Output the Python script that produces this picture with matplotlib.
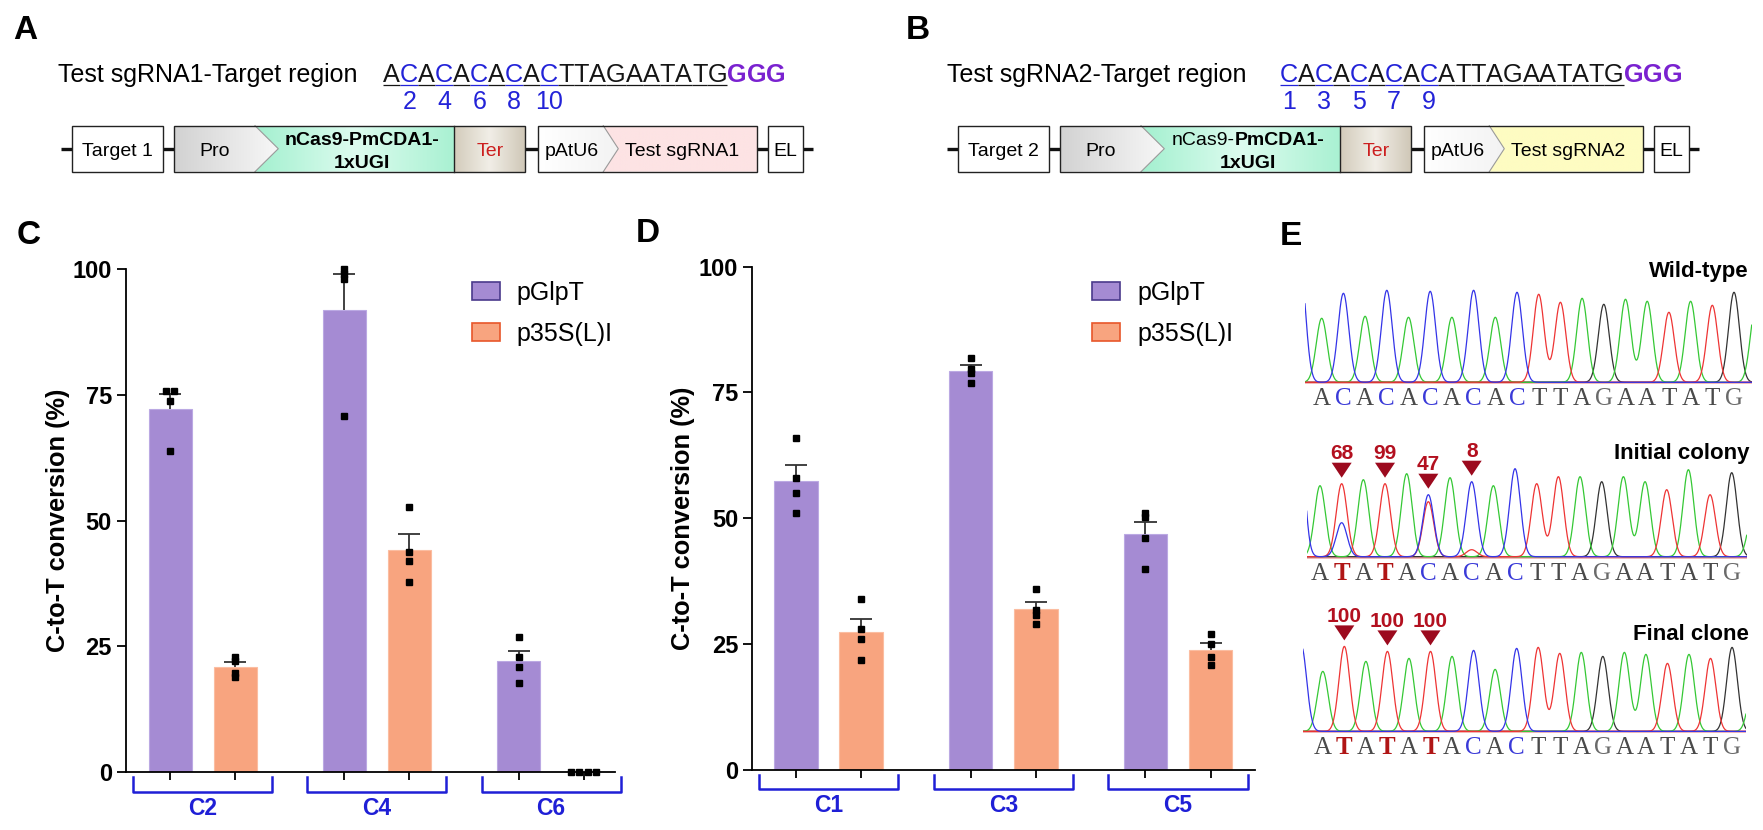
#!/usr/bin/env python3
"""
Base-editing figure: constructs (A, B), C-to-T conversion bars (C, D)
and Sanger chromatograms (E). Saves out.png.
"""

import numpy as np
import matplotlib.pyplot as plt
from matplotlib.patches import Polygon
from matplotlib.colors import LinearSegmentedColormap
from matplotlib.font_manager import FontProperties

plt.rcParams['font.family'] = ['Liberation Sans', 'DejaVu Sans']

W, H = 1763, 830

# ---------------- data ----------------
series = ["pGlpT", "p35S(L)I"]

# panel C
c_groups = ["C2", "C4", "C6"]
c_glpt_mean = [72.3, 91.9, 22.1]
c_glpt_sem = [2.9, 7.1, 1.9]
c_glpt_pts = [[75.8, 75.8, 73.8, 63.8], [100.0, 99.0, 98.0, 70.8], [26.9, 22.9, 20.9, 17.8]]
c_p35s_mean = [20.9, 44.1, 0.0]
c_p35s_sem = [1.0, 3.2, 0.0]
c_p35s_pts = [[22.9, 22.1, 19.6, 18.9], [52.8, 43.8, 41.9, 37.8], [0.0, 0.0, 0.0, 0.0]]

# panel D
d_groups = ["C1", "C3", "C5"]
d_glpt_mean = [57.4, 79.3, 46.8]
d_glpt_sem = [3.2, 1.2, 2.5]
d_glpt_pts = [[65.9, 57.9, 55.0, 51.0], [81.9, 79.7, 78.8, 76.9], [51.0, 50.3, 46.0, 39.9]]
d_p35s_mean = [27.4, 31.9, 23.8]
d_p35s_sem = [2.6, 1.5, 1.4]
d_p35s_pts = [[33.9, 27.9, 26.0, 21.8], [35.9, 31.8, 30.8, 28.9], [27.0, 24.9, 22.4, 20.8]]

# panels A / B
seq_a = "ACACACACACTTAGAATATG"
seq_b = "CACACACACATTAGAATATG"
pam = "GGG"

# panel E (peak heights in px above baseline)
wt_bases = "ACACACACACTTAGAATATG"
wt_heights = [64, 89, 66, 92, 65, 91, 65, 92, 65, 90, 88, 80, 84, 78, 83, 81, 70, 81, 77, 90]
wt_edges = [120, 75]

init_bases = "ATATACACACTTAGAATATG"
init_heights = [71, 73, 77, 73, 83, 62, 79, 75, 71, 88, 73, 80, 80, 75, 80, 75, 67, 87, 62, 84]
init_minor_pos = [1, 5, 7]
init_minor_base = ["C", "T", "T"]
init_minor_h = [34, 55, 7]
init_edges = [150, 46]
init_edit_pos = [1, 3, 5, 7]
init_edit_pct = [68, 99, 47, 8]

final_bases = "ATATATACACTTAGAATATG"
final_heights = [60, 85, 70, 80, 73, 80, 75, 81, 62, 83, 84, 78, 79, 75, 79, 77, 68, 77, 73, 84]
final_edges = [86, 48]
final_edit_pos = [1, 3, 5]
final_edit_pct = [100, 100, 100]

# ---------------- styles ----------------
PURPLE, ORANGE = "#a58bd3", "#f8a47f"
PURPLE_EDGE, ORANGE_EDGE = "#4a3a8c", "#e8562a"
BLUE = "#1f1fd6"
SEQ_BLUE = "#2323d8"
DARKRED, RED = "#9c0a1e", "#b3101f"
GAP = 2.68

fig = plt.figure(figsize=(W / 100, H / 100), dpi=100)
R = fig.canvas.get_renderer()

ov = fig.add_axes([0, 0, 1, 1], zorder=10)
ov.patch.set_alpha(0)
ov.set_axis_off()
ov.set_autoscale_on(False)
ov.set_xlim(0, W)
ov.set_ylim(H, 0)


def adv(s, size, weight="normal", family="Liberation Sans"):
    fp = FontProperties(family=[family], weight=weight, size=size)
    w1 = R.get_text_width_height_descent("X" + s + "X", fp, False)[0]
    w0 = R.get_text_width_height_descent("XX", fp, False)[0]
    return w1 - w0


def gfill(verts, stops, z=2):
    poly = Polygon(verts, closed=True, fc="none", ec="none")
    ov.add_patch(poly)
    xs = [v[0] for v in verts]
    ys = [v[1] for v in verts]
    cm = LinearSegmentedColormap.from_list("g", stops)
    im = ov.imshow(np.linspace(0, 1, 200)[None, :], cmap=cm,
                   extent=(min(xs), max(xs), max(ys), min(ys)),
                   aspect="auto", interpolation="bilinear", zorder=z)
    im.set_clip_path(poly)


def outline(verts, color="#222222", lw=1.0, z=3):
    ov.add_patch(Polygon(verts, closed=True, fc="none", ec=color, lw=lw, zorder=z))


# ---------------- panels A / B ----------------
def target_line(x_label, x_seq, title, seq):
    ov.text(x_label, 81.7, title, fontsize=18, ha="left", va="baseline")
    size = 18.2
    x = x_seq
    centers = []
    for ch in seq:
        a = adv(ch, size)
        col = SEQ_BLUE if ch == "C" else "#151515"
        ov.text(x + a / 2, 81.7, ch, fontsize=size, ha="center", va="baseline", color=col)
        ov.plot([x, x + a], [85, 85], color=col, lw=0.9, solid_capstyle="butt")
        centers.append(x + a / 2)
        x += a
    for ch in pam:
        a = adv(ch, size, "bold")
        ov.text(x + a / 2, 81.7, ch, fontsize=size, weight="bold", ha="center",
                va="baseline", color="#7a22d0")
        x += a
    for i, ch in enumerate(seq):
        if ch == "C":
            ov.text(centers[i], 109.3, str(i + 1), fontsize=18, ha="center",
                    va="baseline", color=SEQ_BLUE)


def construct(dx, target_name, sg_name, sg_color, mixed):
    yt, yb, ym = 125.7, 171.7, 148.7
    for a, b in [(60.7, 72.3), (163.3, 174.3), (525, 538.3), (757.3, 768.3), (803.3, 813)]:
        ov.plot([a + dx, b + dx], [ym, ym], color="#111111", lw=2.4,
                solid_capstyle="butt", zorder=1)
    box = lambda x0, x1: [(x0 + dx, yt), (x1 + dx, yt), (x1 + dx, yb), (x0 + dx, yb)]
    # target box
    ov.add_patch(Polygon(box(72.3, 163.3), closed=True, fc="white", ec="#222222", lw=1.0, zorder=3))
    # promoter / editor / terminator
    pro = [(174.3 + dx, yt), (255 + dx, yt), (278.3 + dx, ym), (255 + dx, yb), (174.3 + dx, yb)]
    gfill(pro, ["#d2d2d2", "#f7f7f7"])
    green = [(255 + dx, yt), (454.3 + dx, yt), (454.3 + dx, yb), (255 + dx, yb), (278.3 + dx, ym)]
    gfill(green, ["#a3f0cf", "#ddfcef", "#a9f1d2"])
    gfill(box(454.3, 525), ["#d3cbbb", "#f1eee7", "#d0c8b8"])
    ov.plot([255 + dx, 278.3 + dx, 255 + dx], [yt, ym, yb], color="#9a9a9a", lw=0.8, zorder=3)
    ov.plot([454.3 + dx, 454.3 + dx], [yt, yb], color="#222222", lw=1.0, zorder=3)
    outline(box(174.3, 525))
    # U6 + sgRNA
    u6 = [(538.3 + dx, yt), (603.3 + dx, yt), (618.3 + dx, ym), (603.3 + dx, yb), (538.3 + dx, yb)]
    gfill(u6, ["#ffffff", "#f3f3f3"])
    sg = [(603.3 + dx, yt), (757.3 + dx, yt), (757.3 + dx, yb), (603.3 + dx, yb), (618.3 + dx, ym)]
    gfill(sg, [sg_color, sg_color])
    ov.plot([603.3 + dx, 618.3 + dx, 603.3 + dx], [yt, ym, yb], color="#9a9a9a", lw=0.8, zorder=3)
    outline(box(538.3, 757.3))
    ov.add_patch(Polygon(box(768.3, 803.3), closed=True, fc="white", ec="#222222", lw=1.0, zorder=3))

    fs = 14
    kw = dict(fontsize=fs, va="baseline", zorder=4)
    ov.text(117.7 + dx, 155.5, target_name, ha="center", **kw)
    ov.text(215 + dx, 155.5, "Pro", ha="center", **kw)
    if mixed:
        w1 = adv("nCas9-", fs)
        w2 = adv("PmCDA1-", fs, "bold")
        x0 = 361.7 + dx - (w1 + w2) / 2
        ov.text(x0, 145, "nCas9-", ha="left", **kw)
        ov.text(x0 + w1, 145, "PmCDA1-", ha="left", weight="bold", **kw)
    else:
        ov.text(361.7 + dx, 145, "nCas9-PmCDA1-", ha="center", weight="bold", **kw)
    ov.text(361.7 + dx, 168.3, "1xUGI", ha="center", weight="bold", **kw)
    ov.text(490 + dx, 155.5, "Ter", ha="center", color="#cc1f1f", **kw)
    ov.text(571.7 + dx, 155.5, "pAtU6", ha="center", **kw)
    ov.text(682 + dx, 155.5, sg_name, ha="center", **kw)
    ov.text(785.7 + dx, 155.5, "EL", ha="center", **kw)


target_line(58.3, 383.3, "Test sgRNA1-Target region", seq_a)
target_line(947, 1280, "Test sgRNA2-Target region", seq_b)
construct(0, "Target 1", "Test sgRNA1", "#fde3e4", False)
construct(886, "Target 2", "Test sgRNA2", "#fefcc2", True)


# ---------------- panels C / D ----------------
def spread(xc, vals, tol=0.5, step=0.13):
    xs = np.full(len(vals), float(xc))
    used = [False] * len(vals)
    for i in range(len(vals)):
        if used[i]:
            continue
        grp = [j for j in range(len(vals)) if not used[j] and abs(vals[j] - vals[i]) <= tol]
        for n, j in enumerate(grp):
            used[j] = True
            xs[j] = xc + (n - (len(grp) - 1) / 2) * step
    return xs


def bar_panel(box, xlim, groups, means, sems, pts, legend_x, ylabel_x):
    x0, x1, ytop, ybot = box
    hpx = ybot - ytop
    ax = fig.add_axes([x0 / W, 1 - ybot / H, (x1 - x0) / W, hpx / H])
    ax.patch.set_alpha(0)
    base = np.arange(len(groups)) * GAP
    ticks = []
    for k, (m, e, p, col, ecol) in enumerate(zip(means, sems, pts, [PURPLE, ORANGE],
                                                  ["#bba9e3", "#fbbda1"])):
        pos = base + k
        ticks += list(pos)
        ax.bar(pos, m, width=0.667, color=col, edgecolor=ecol, lw=0.8, zorder=2)
        for xp, mv, ev, pp in zip(pos, m, e, p):
            if ev > 0:
                ax.vlines(xp, mv, mv + ev, color="#333333", lw=1.3, zorder=3)
                ax.hlines(mv + ev, xp - 0.17, xp + 0.17, color="#333333", lw=1.3, zorder=3)
            ax.plot(spread(xp, pp), pp, "s", ms=4.6, color="black", zorder=5, clip_on=False)
    ax.set_xlim(*xlim)
    ax.set_ylim(0, 100)
    ax.set_yticks([0, 25, 50, 75, 100])
    ax.set_xticks(sorted(ticks))
    ax.set_xticklabels([])
    ax.tick_params(axis="y", length=6.5, width=1.3, labelsize=17, pad=3.6)
    ax.tick_params(axis="x", length=5.8, width=1.3)
    for lbl in ax.get_yticklabels():
        lbl.set_fontweight("bold")
    for s in ["top", "right"]:
        ax.spines[s].set_visible(False)
    for s in ["left", "bottom"]:
        ax.spines[s].set_linewidth(1.3)
    # group brackets
    tr = ax.get_xaxis_transform()
    for g, name in enumerate(groups):
        c = base[g] + 0.5
        yt, yb = -5 / hpx, -19.5 / hpx
        ax.plot([c - 1.07, c - 1.07, c + 1.07, c + 1.07], [yt, yb, yb, yt], color=BLUE,
                lw=1.8, transform=tr, clip_on=False)
        ax.text(c, -36 / hpx, name, transform=tr, ha="center", va="center",
                fontsize=16.5, weight="bold", color=BLUE)
    # legend
    for k, (name, col, ecol) in enumerate(zip(series, [PURPLE, ORANGE], [PURPLE_EDGE, ORANGE_EDGE])):
        yc = 291 + 41 * k
        ov.add_patch(Polygon([(legend_x, yc - 9), (legend_x + 28, yc - 9), (legend_x + 28, yc + 9),
                              (legend_x, yc + 9)], closed=True, fc=col, ec=ecol, lw=1.2))
        ov.text(legend_x + 45, yc + 9, name, fontsize=18, ha="left", va="baseline")
    ov.text(ylabel_x, (ytop + ybot) / 2, "C-to-T conversion (%)", rotation=90, ha="center",
            va="center", fontsize=18.3, weight="bold")
    return ax


bar_panel((126, 615, 269.3, 772), (-0.68, 6.843), c_groups,
          [c_glpt_mean, c_p35s_mean], [c_glpt_sem, c_p35s_sem], [c_glpt_pts, c_p35s_pts],
          471.7, 58)
bar_panel((752.3, 1255, 266.7, 769.7), (-0.67, 7.04), d_groups,
          [d_glpt_mean, d_p35s_mean], [d_glpt_sem, d_p35s_sem], [d_glpt_pts, d_p35s_pts],
          1092.3, 683.3)

# ---------------- panel E ----------------
SIG = 0.25
CH_COL = {"A": "#35c835", "C": "#3434e8", "G": "#333333", "T": "#ee3434"}
LET_COL = {"A": "#4a4a4a", "C": "#3a3ad8", "G": "#6a6a6a", "T": "#4a4a4a"}


def gauss(x, c):
    return np.exp(-0.5 * ((x - c) / SIG) ** 2)


def trace(geom, label, label_y, bases, heights, edges, minor=((), (), ()), edits=((), ())):
    L, Rx, P0, S, B = geom
    xl, xr = (L - P0) / S, (Rx - P0) / S
    ax = fig.add_axes([L / W, 1 - (B + 3) / H, (Rx - L) / W, 103 / H])
    x = np.linspace(xl, xr, 1600)
    sig = {b: np.zeros_like(x) for b in "ACGT"}
    for i, (b, h) in enumerate(zip(bases, heights)):
        sig[b] += h * gauss(x, i)
    for i, b, h in zip(*minor):
        sig[b] += h * gauss(x, i)
    sig["C"] += edges[0] * gauss(x, -1)
    sig["A"] += edges[1] * gauss(x, len(bases))
    ax.plot([xl, xr], [0, 0], color="#f0a3a3", lw=1.8, zorder=1)
    for b in "GATC":
        ax.plot(x, sig[b], color=CH_COL[b], lw=0.9, zorder=2)
    ax.set_xlim(xl, xr)
    ax.set_ylim(-3, 100)
    ax.axis("off")

    edit_pos, edit_pct = edits
    for i, b in enumerate(bases):
        edited = i in edit_pos and b == "T"
        ov.text(P0 + S * i, B + 23, b, ha="center", va="baseline", fontsize=18,
                family=["Liberation Serif", "DejaVu Serif"],
                weight="bold" if edited else "normal",
                color="#b01515" if edited else LET_COL[b])
    for i, pct in zip(edit_pos, edit_pct):
        top = max([heights[i]] + [h for p, h in zip(minor[0], minor[2]) if p == i])
        tip = B - top - 6
        xc = P0 + S * i
        ov.add_patch(Polygon([(xc - 10, tip - 15), (xc + 10, tip - 15), (xc, tip)],
                             closed=True, fc=DARKRED, ec="none"))
        ov.text(xc, tip - 18.5, str(pct), ha="center", va="baseline", fontsize=15,
                weight="bold", color=RED)
    ov.text(1749, label_y, label, ha="right", va="baseline", fontsize=16, weight="bold")


trace((1305, 1751.7, 1321.7, 21.7, 382.3), "Wild-type", 276.5,
      wt_bases, wt_heights, wt_edges)
trace((1306.7, 1746.7, 1320, 21.67, 556.7), "Initial colony", 459.3,
      init_bases, init_heights, init_edges,
      minor=(init_minor_pos, init_minor_base, init_minor_h),
      edits=(init_edit_pos, init_edit_pct))
trace((1302.9, 1745.9, 1322.8, 21.54, 731.4), "Final clone", 640,
      final_bases, final_heights, final_edges,
      edits=(final_edit_pos, final_edit_pct))

# ---------------- panel letters ----------------
for letter, x, y in [("A", 13, 39), ("B", 906, 39), ("C", 17, 244), ("D", 636, 242), ("E", 1280, 245)]:
    ov.text(x, y, letter, fontsize=24, weight="bold", ha="left", va="baseline")

ov.set_xlim(0, W)
ov.set_ylim(H, 0)
fig.savefig("out.png", dpi=100)
